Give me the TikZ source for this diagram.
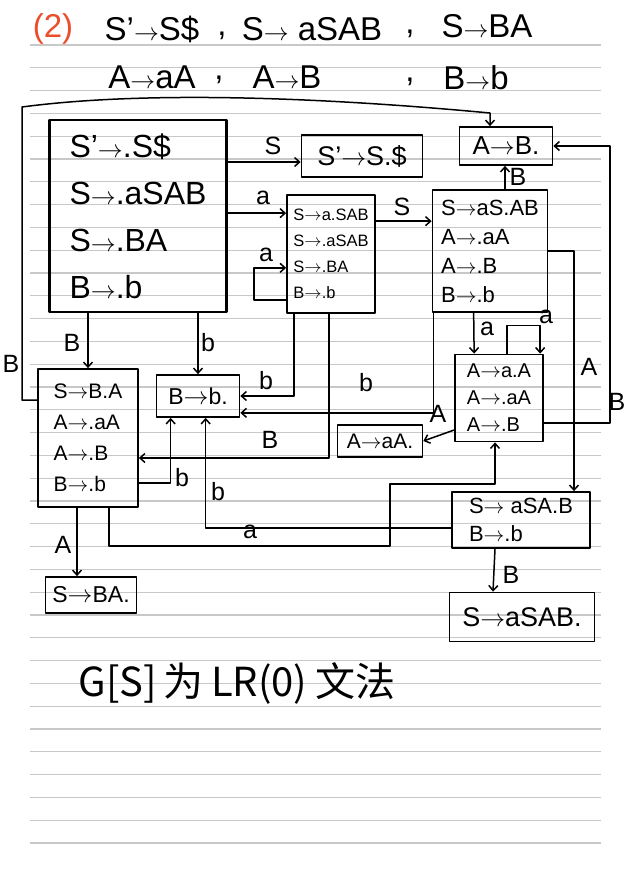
\documentclass[tikz,border=0pt]{standalone}
\usepackage{fontspec}
\setmainfont{Liberation Sans}
\newfontfamily\cjk{Noto Sans CJK SC}
\usepackage{graphicx}
\usetikzlibrary{arrows.meta}

\definecolor{ruleline}{RGB}{200,200,200}
\definecolor{pen}{RGB}{236,78,44}
\newcommand{\ra}{\(\rightarrow\)}
\newcommand{\fsz}[2]{\fontsize{#1}{#2}\selectfont}

\begin{document}
\begin{tikzpicture}[x=1pt,y=-1pt,->,>={Straight Barb[length=5pt,width=9pt]},
  line width=1.5pt,line join=round,
  state node/.style={draw,rectangle,align=left,inner sep=2pt,line width=1.7pt},
  label node/.style={font=\fsz{25}{25},inner sep=0pt},
  head node/.style={font=\fsz{33}{33},inner sep=0pt}]

  \fill[white] (0,0) rectangle (631,895);
  \useasboundingbox (0,0) rectangle (631,895);

  % ruled paper
  \foreach \k in {0,...,35}
    \draw[-,ruleline,line width=1.2pt] (30,{45+22.8*\k}) -- (601,{45+22.8*\k});

  % grammar
  \node[head node,text=pen] (num) at (53,29) {(2)};
  \node[head node] (g1) at (152,29) {S'\ra S\$};
  \node[head node] (k1) at (222,36) {,};
  \node[head node] (g2) at (312,29) {S\ra{} aSAB};
  \node[head node] (k2) at (410,34) {,};
  \node[head node] (g3) at (487,26) {S\ra BA};
  \node[head node] (g4) at (152,77) {A\ra aA};
  \node[head node] (k3) at (219,80) {,};
  \node[head node] (g5) at (287,77) {A\ra B};
  \node[head node] (k4) at (410,82) {,};
  \node[head node] (g6) at (476,78) {B\ra b};

  % item sets
  \node[state node,line width=2.4pt,minimum width=177pt,minimum height=192pt,
    font=\fsz{32}{47}] (i0) at (138,216) {S'\ra.S\$\\S\ra.aSAB\\S\ra.BA\\B\ra.b};
  \node[state node,minimum width=121pt,minimum height=42pt,
    font=\fsz{27}{27}] (i1) at (362,156) {S'\ra S.\$};
  \node[state node,minimum width=88pt,minimum height=118pt,
    font=\fsz{16.5}{26}] (i2) at (331,254) {S\ra a.SAB\\S\ra.aSAB\\S\ra.BA\\B\ra.b};
  \node[state node,minimum width=93pt,minimum height=38pt,
    font=\fsz{26}{26}] (i3) at (506,146) {A\ra B.};
  \node[state node,minimum width=115pt,minimum height=122pt,
    font=\fsz{22}{29}] (i4) at (490,251) {S\ra aS.AB\\A\ra.aA\\A\ra.B\\B\ra.b};
  \node[state node,minimum width=100pt,minimum height=138pt,
    font=\fsz{21}{31}] (i5) at (88,438) {S\ra B.A\\A\ra.aA\\A\ra.B\\B\ra.b};
  \node[state node,minimum width=83pt,minimum height=42pt,
    font=\fsz{23}{23}] (i6) at (198,396) {B\ra b.};
  \node[state node,minimum width=88pt,minimum height=87pt,
    font=\fsz{20}{27}] (i7) at (499,398) {A\ra a.A\\A\ra.aA\\A\ra.B};
  \node[state node,minimum width=138pt,minimum height=56pt,
    font=\fsz{22}{28}] (i8) at (521,520) {S\ra{} aSA.B\\B\ra.b};
  \node[state node,minimum width=85pt,minimum height=32pt,
    font=\fsz{21}{21}] (i9) at (380,441) {A\ra aA.};
  \node[state node,minimum width=145pt,minimum height=49pt,
    font=\fsz{27}{27}] (i10) at (522,617) {S\ra aSAB.};
  \node[state node,minimum width=91pt,minimum height=36pt,
    font=\fsz{23}{23}] (i11) at (91,595) {S\ra BA.};

  \coordinate (i1a) at ([yshift=-6pt]i1.west);
  \coordinate (i2a) at ([yshift=-19pt]i2.north west);
  \coordinate (i4a) at ([yshift=-32pt]i4.north west);
  \coordinate (i5a) at ([yshift=-20pt]i5.east);
  \coordinate (t1) at (22,107);
  \coordinate (t2) at (490,113);
  \coordinate (a1) at (390,546);
  \coordinate (a2) at (495,484);

  % goto from I0
  \draw (i0.east |- i1a) -- (i1a);
  \draw (i0.east |- i2a) -- (i2a);
  \draw (i5.north |- i0.south) -- (i5.north);
  \draw (i6.north |- i0.south) -- (i6.north);
  % goto from I2
  \draw ([yshift=14pt]i2.south west) -- ++(-32,0) -- ++(0,-32) -- ++(32,0);
  \draw (i2.east |- i4a) -- (i4a);
  \draw ([xshift=8pt]i2.south west) |- (i6.east);
  \draw ([xshift=43pt]i2.south west) |- (i5a);
  % goto from I4
  \draw ([xshift=15pt]i4.north) -- ([xshift=-1pt]i3.south);
  \draw (i4.east) -| ([xshift=53pt]i8.north);
  \draw ([xshift=42pt]i4.south west) -- ([xshift=20pt]i7.north west);
  \draw ([xshift=2pt]i4.south west) |- ([yshift=5pt]i6.south east);
  % goto from I5
  \draw ([yshift=38pt]i5.west) -| (t1) .. controls (150,90) and (330,98) .. (t2)
    -- ([xshift=-16pt]i3.north);
  \draw ([yshift=-45pt]i5.east) -| ([xshift=15pt]i6.south west);
  \draw ([xshift=-11pt]i5.south) -- ([xshift=-14pt]i11.north);
  \draw ([xshift=72pt]i5.south west) |- (a1) |- (a2) -- (a2 |- i7.south);
  % goto from I7
  \draw ([xshift=53pt]i7.north west) -- ++(0,-28) -- ++(33,0) -- ++(0,28);
  \draw ([yshift=-32pt]i7.west) -- (i9.east);
  \draw ([yshift=-25pt]i7.east) -- ++(66,0) |- (i3.east);
  % goto from I8
  \draw ([yshift=-8pt]i8.west) -| ([xshift=50pt]i6.south west);
  \draw ([xshift=-26pt]i8.south) -- ([xshift=-29pt]i10.north);

  % symbols on the arrows
  \node[label node] (l1) at (273,146) {S};
  \node[label node] (l2) at (263,198) {a};
  \node[label node] (l3) at (266,255) {a};
  \node[label node] (l4) at (402,207) {S};
  \node[label node] (l5) at (72,343) {B};
  \node[label node] (l6) at (208,343) {b};
  \node[label node] (l7) at (266,381) {b};
  \node[label node] (l8) at (366,383) {b};
  \node[label node] (l9) at (270,440) {B};
  \node[label node] (l10) at (182,478) {b};
  \node[label node] (l11) at (218,492) {b};
  \node[label node] (l12) at (250,532) {a};
  \node[label node] (l13) at (518,177) {B};
  \node[label node] (l14) at (589,367) {A};
  \node[label node] (l15) at (487,329) {a};
  \node[label node] (l16) at (546,317) {a};
  \node[label node] (l17) at (438,414) {A};
  \node[label node] (l18) at (617,402) {B};
  \node[label node] (l19) at (11,364) {B};
  \node[label node] (l20) at (63,545) {A};
  \node[label node] (l21) at (511,575) {B};

  \node[font=\cjk\fsz{40}{40},inner sep=0pt] (res) at (237,683)
    {G[S]\hspace{6pt}为\hspace{8pt}LR(0)\hspace{8pt}文法};
\end{tikzpicture}
\end{document}
